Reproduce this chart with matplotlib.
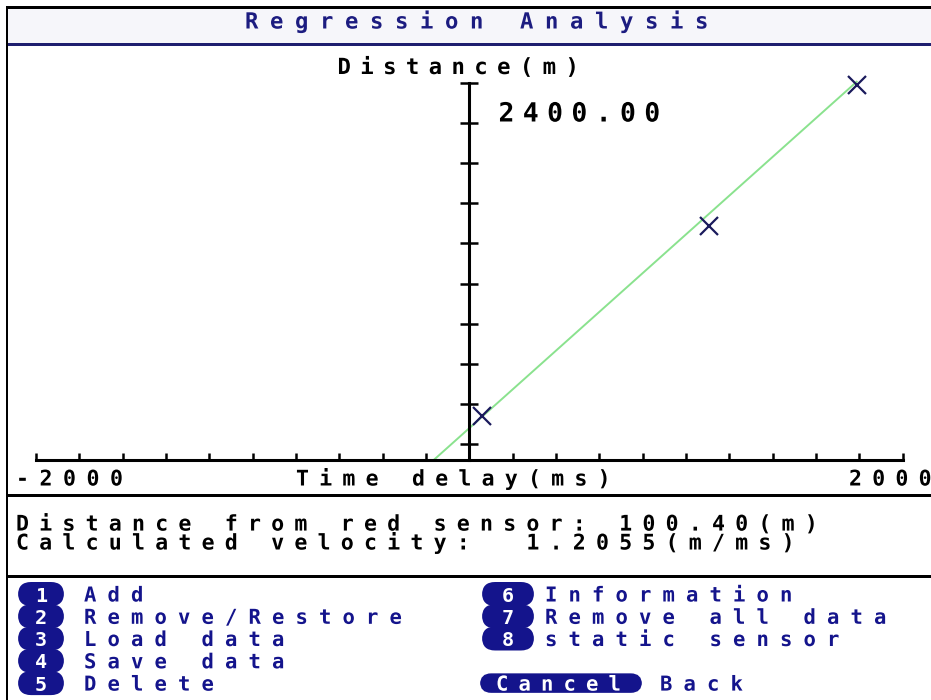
import numpy as np
import matplotlib
matplotlib.use("Agg")
import matplotlib.pyplot as plt
from matplotlib.patheffects import AbstractPathEffect
from matplotlib.path import Path
from matplotlib.patches import Rectangle, FancyBboxPatch
from matplotlib.font_manager import FontProperties, findfont
from matplotlib.ft2font import FT2Font

# ---------------- data ----------------
time_delay_ms = [57, 1108, 1788]
distance_m = [176, 1358, 2236]
intercept_m = 100.40
velocity_m_per_ms = 1.2055

x_ticks = list(range(-2000, 2001, 200))
y_ticks = list(range(0, 2251, 250))
x_limits = [-2000, 2000]
y_limits = [-100, 2400]
x_end_labels = ["-2000", "2000"]
y_top_label = "2400.00"

title = "Regression Analysis"
x_title = "Time delay(ms)"
y_title = "Distance(m)"
menu_left_keys = ["1", "2", "3", "4", "5"]
menu_left = ["Add", "Remove/Restore", "Load data", "Save data", "Delete"]
menu_right_keys = ["6", "7", "8"]
menu_right = ["Information", "Remove all data", "static sensor"]
cancel_key = "Cancel"
cancel_text = "Back"

# ---------------- setup ----------------
W, H = 931, 700
FONT = "DejaVu Sans Mono"
NAVY = "#14148c"
TITLE_C = "#1c1c80"
WEIGHT = "bold"

_ft = FT2Font(findfont(FontProperties(family=FONT, weight=WEIGHT)))
_ft.set_size(100, 72)
ADV = _ft.load_char(ord("0")).linearHoriAdvance / 65536.0


class Spaced(AbstractPathEffect):
    """Draws monospace text with a wider character pitch (letter spacing)."""

    def __init__(self, pitch):
        super().__init__()
        self.pitch = pitch

    def draw_path(self, renderer, gc, tpath, affine, rgbFace=None):
        sc = affine.get_matrix()[0, 0]
        extra = self.pitch / sc - ADV
        v = tpath.vertices.copy()
        c = tpath.codes
        if c is not None and len(v):
            starts = np.flatnonzero(c == Path.MOVETO)
            ends = np.append(starts[1:], len(c))
            for a, b in zip(starts, ends):
                m = c[a:b] != Path.CLOSEPOLY
                xs = v[a:b][m, 0]
                if xs.size == 0:
                    continue
                idx = np.floor(0.5 * (xs.min() + xs.max()) / ADV)
                v[a:b, 0] += idx * extra
        renderer.draw_path(gc, Path(v, c), affine, rgbFace)


fig = plt.figure(figsize=(W / 100, H / 100), dpi=100)
fig.patch.set_facecolor("white")


def fx(x):
    return x / W


def fy(y):
    return 1 - y / H


def rect(x0, y0, x1, y1, color, z=1):
    fig.add_artist(Rectangle((fx(x0), fy(y1)), (x1 - x0) / W, (y1 - y0) / H,
                             transform=fig.transFigure, facecolor=color,
                             edgecolor="none", zorder=z))


def txt(x, y, s, size, pitch, color="black", z=5, **kw):
    return fig.text(fx(x), fy(y), s, fontsize=size, family=FONT, color=color,
                    ha="left", va="baseline", fontweight=WEIGHT, zorder=z,
                    path_effects=[Spaced(pitch)], **kw)


def badge(cx, cy, w, h, rs=0.012, z=3):
    fig.add_artist(FancyBboxPatch((fx(cx - w / 2), fy(cy + h / 2)), w / W, h / H,
                                  boxstyle=f"round,pad=0,rounding_size={rs}",
                                  transform=fig.transFigure, facecolor=NAVY,
                                  edgecolor="none", zorder=z,
                                  mutation_aspect=W / H))


# ---------------- frame ----------------
rect(8, 8.5, W, 42.5, "#f6f6fa")
rect(8, 42.5, W, 46, "#1f1f6f", z=2)
rect(8, 493.5, W, 496.5, "black", z=2)
rect(8, 574.5, W, 577.5, "black", z=2)
rect(5.5, 6, 8.3, H, "black", z=2)
rect(5.5, 6, W, 8.5, "black", z=2)

txt(245, 28.5, title, 16, 25.0, color=TITLE_C)

# ---------------- plot ----------------
px_per_m = 361.6 / 2250.0
y0_px = 444.3
ax_top = y0_px - y_limits[1] * px_per_m
ax_bot = y0_px - y_limits[0] * px_per_m
ax_left, ax_right = 36.0, 902.6
ax = fig.add_axes([fx(ax_left), fy(ax_bot), (ax_right - ax_left) / W,
                   (ax_bot - ax_top) / H])
ax.patch.set_visible(False)
ax.set_xlim(*x_limits)
ax.set_ylim(*y_limits)
for s in ["top", "right"]:
    ax.spines[s].set_visible(False)
ax.spines["bottom"].set_linewidth(2.2)
ax.spines["left"].set_linewidth(2.2)
ax.spines["left"].set_position(("data", 0))
ax.spines["left"].set_bounds(y_limits[0], y_ticks[-1])
ax.set_xticks(x_ticks)
ax.set_yticks(y_ticks)
ax.tick_params(axis="x", direction="in", length=5.2, width=1.8,
               labelbottom=False, color="black")
ax.tick_params(axis="y", direction="inout", length=13.5, width=1.8,
               labelleft=False, color="black")

xs = np.array([x_limits[0], max(time_delay_ms)], dtype=float)
ax.plot(xs, intercept_m + velocity_m_per_ms * xs, color="#8ae28e", lw=1.4,
        zorder=2)
ax.plot(time_delay_ms, distance_m, linestyle="none", marker="x",
        markersize=13.5, markeredgewidth=1.6, color="#1a1a5c", zorder=3)

txt(337.5, 74, y_title, 16, 22.8)
txt(498.5, 121.5, y_top_label, 19, 24.3)
txt(16, 485.5, x_end_labels[0], 15.5, 23.5)
txt(296, 485.5, x_title, 15.5, 23.2)
txt(849, 485.5, x_end_labels[1], 15.5, 23.2)

# ---------------- info ----------------
info_lines = [f"Distance from red sensor: {intercept_m:.2f}(m)",
              f"Calculated velocity:  {velocity_m_per_ms:.4f}(m/ms)"]
txt(16, 549.5, "\n".join(info_lines), 15.5, 23.2, linespacing=0.83)

# ---------------- menu ----------------
row_base = [601.5, 623.8, 646.0, 668.3, 690.6]
for i, (k, s) in enumerate(zip(menu_left_keys, menu_left)):
    cy = row_base[i] - 7.5
    badge(41, cy, 46, 24, rs=0.014)
    fig.text(fx(41), fy(row_base[i]), k, fontsize=14.5, family=FONT,
             color="white", ha="center", va="baseline", fontweight="bold",
             zorder=6)
    txt(84, row_base[i], s, 14.8, 23.5, color=NAVY)
for i, (k, s) in enumerate(zip(menu_right_keys, menu_right)):
    cy = row_base[i] - 7.5
    badge(508, cy, 52, 24, rs=0.014)
    fig.text(fx(508), fy(row_base[i]), k, fontsize=14.5, family=FONT,
             color="white", ha="center", va="baseline", fontweight="bold",
             zorder=6)
    txt(545, row_base[i], s, 14.8, 23.5, color=NAVY)

badge(561, row_base[4] - 7.5, 162, 19.5)
txt(496, row_base[4], cancel_key, 14.8, 22.5, color="white", z=6)
txt(660, row_base[4], cancel_text, 14.8, 23.5, color=NAVY)

fig.savefig("out.png", dpi=100)
